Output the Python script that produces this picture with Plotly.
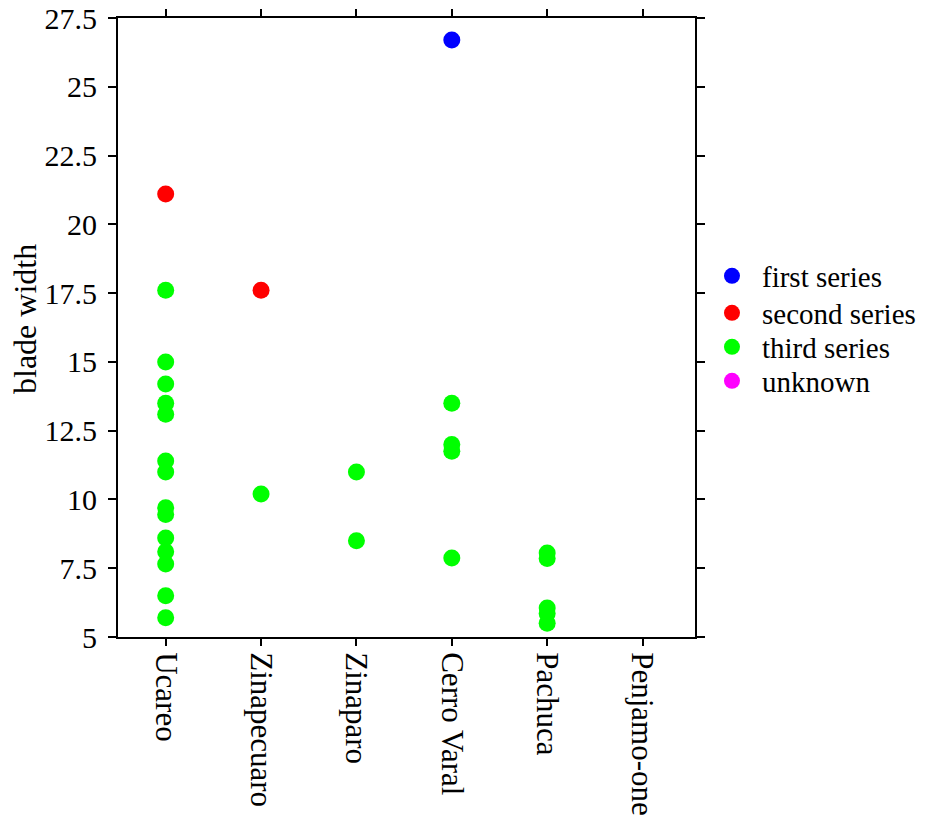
import plotly.graph_objects as go

categories = ["Ucareo", "Zinapecuaro", "Zinaparo", "Cerro Varal", "Pachuca", "Penjamo-one"]

first_x = ["Cerro Varal"]
first_y = [26.7]

second_x = ["Ucareo", "Zinapecuaro"]
second_y = [21.1, 17.6]

third_x = (["Ucareo"] * 14 + ["Zinapecuaro"] + ["Zinaparo"] * 2 +
           ["Cerro Varal"] * 4 + ["Pachuca"] * 5)
third_y = [17.6, 15.0, 14.2, 13.5, 13.1, 11.4, 11.0, 9.7, 9.45, 8.6, 8.1, 7.65, 6.5, 5.7,
           10.2,
           11.0, 8.5,
           13.5, 12.0, 11.75, 7.87,
           8.05, 7.85, 6.05, 5.85, 5.5]

# "unknown" has no measured values
unknown_x = ["Penjamo-one"]
unknown_y = [None]

y_ticks = [5, 7.5, 10, 12.5, 15, 17.5, 20, 22.5, 25, 27.5]

series = [
    ("first series", first_x, first_y, "#0000FF"),
    ("second series", second_x, second_y, "#FF0000"),
    ("third series", third_x, third_y, "#00FF00"),
    ("unknown", unknown_x, unknown_y, "#FF00FF"),
]
legend_ids = ["legend", "legend2", "legend3", "legend4"]
legend_y = [0.5832, 0.5234, 0.4685, 0.4136]

font = "Liberation Serif"

fig = go.Figure()
layout_legends = {}
for (name, xs, ys, col), lid, ly in zip(series, legend_ids, legend_y):
    fig.add_trace(go.Scatter(x=xs, y=ys, mode="markers", name=name, showlegend=True,
                             legend=lid,
                             marker=dict(color=col, size=17, line=dict(width=0))))
    layout_legends[lid] = dict(x=1.0121, xanchor="left", y=ly, yanchor="middle",
                               font=dict(family=font, size=29, color="black"),
                               bgcolor="rgba(0,0,0,0)", borderwidth=0,
                               itemwidth=50)

fig.update_layout(
    width=927, height=819,
    margin=dict(l=110, r=240, t=10, b=190),
    plot_bgcolor="white", paper_bgcolor="white",
    font=dict(family=font, size=30, color="black"),
    showlegend=True,
    xaxis=dict(type="category", categoryorder="array", categoryarray=categories,
               range=[-0.5, 5.55], tickangle=90, showgrid=False, zeroline=False,
               automargin=False,
               showline=True, linecolor="black", linewidth=2, mirror="ticks",
               ticks="outside", ticklen=7, tickwidth=1.5, tickcolor="black",
               tickfont=dict(family=font, size=31, color="black")),
    yaxis=dict(range=[5, 27.5], tickvals=y_ticks, ticktext=[str(v) for v in y_ticks],
               showgrid=False, zeroline=False, automargin=False,
               ticklabeloverflow="allow", ticklabelstandoff=5,
               showline=True, linecolor="black", linewidth=2, mirror="ticks",
               ticks="outside", ticklen=8, tickwidth=1.5, tickcolor="black",
               tickfont=dict(family=font, size=30, color="black")),
    annotations=[dict(text="blade width", textangle=-90, showarrow=False,
                      xref="paper", yref="paper", x=-0.1612, y=0.5137,
                      xanchor="center", yanchor="middle",
                      font=dict(family=font, size=32, color="black"))],
    **layout_legends,
)

fig.write_html("out.html")
